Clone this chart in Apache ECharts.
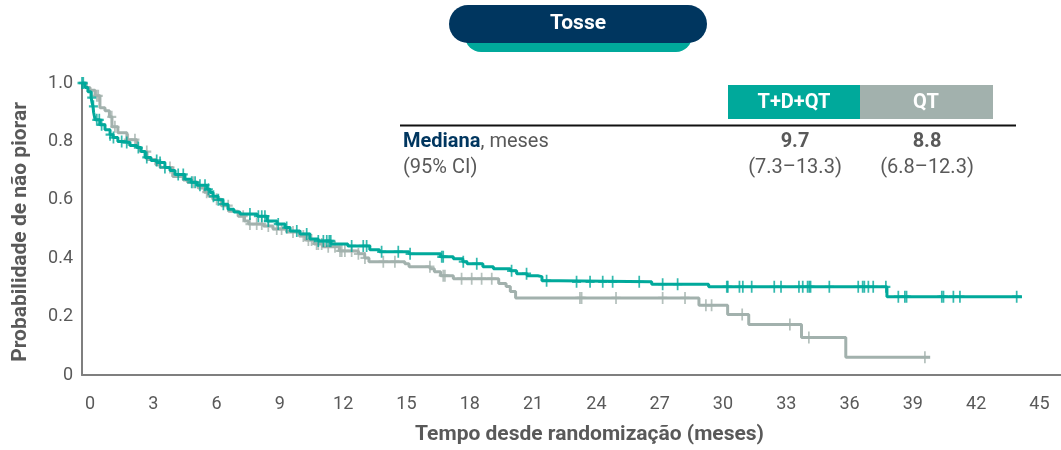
<!DOCTYPE html>
<html>
<head>
<meta charset="utf-8">
<script src="https://cdn.jsdelivr.net/npm/echarts@6/dist/echarts.min.js"></script>
<style>
  html, body { margin: 0; padding: 0; background: #ffffff; }
  #chart { width: 1061px; height: 450px; }
</style>
</head>
<body>
<div id="chart"></div>
<script>
// Kaplan–Meier steps: [month, probability of not worsening]
const stepsTDQT = [
  [0, 1.0], [0.14, 0.985], [0.28, 0.97], [0.43, 0.95], [0.52, 0.92], [0.55, 0.90], [0.62, 0.874],
  [0.85, 0.857], [1.09, 0.84], [1.33, 0.823], [1.47, 0.813], [1.7, 0.80], [1.94, 0.796],
  [2.27, 0.786], [2.6, 0.779], [2.8, 0.765], [2.99, 0.745], [3.27, 0.735], [3.55, 0.728],
  [3.93, 0.711], [4.17, 0.70], [4.41, 0.687], [4.88, 0.670], [5.17, 0.66], [5.45, 0.650],
  [5.92, 0.636], [6.07, 0.625], [6.21, 0.612], [6.45, 0.60], [6.68, 0.585], [6.92, 0.568],
  [7.2, 0.558], [7.49, 0.551], [8.3, 0.544], [8.77, 0.527], [9.24, 0.517], [9.62, 0.505],
  [9.86, 0.493], [10.33, 0.483], [10.8, 0.466], [11.2, 0.459], [11.8, 0.449], [12.6, 0.442],
  [13.64, 0.429], [14.1, 0.422], [15.5, 0.415], [17.0, 0.405], [17.6, 0.398], [18.05, 0.388],
  [18.25, 0.381], [19.0, 0.371], [19.5, 0.364], [20.3, 0.357], [20.6, 0.347], [21.1, 0.34],
  [21.6, 0.337], [21.8, 0.323], [22.6, 0.319], [27.0, 0.311], [29.7, 0.302], [38.15, 0.268],
  [44.55, 0.268]
];
const stepsQT = [
  [0, 1.0], [0.2, 0.985], [0.38, 0.975], [0.62, 0.956], [0.85, 0.915], [1.09, 0.905], [1.3, 0.884],
  [1.42, 0.85], [1.7, 0.83], [2.13, 0.806], [2.6, 0.78], [2.75, 0.765], [3.08, 0.738], [3.5, 0.72],
  [3.7, 0.711], [4.3, 0.68], [4.8, 0.668], [5.0, 0.66], [5.5, 0.64], [5.8, 0.626], [6.0, 0.612],
  [6.2, 0.602], [6.6, 0.58], [6.95, 0.561], [7.4, 0.544], [7.7, 0.527], [7.9, 0.517], [8.6, 0.51],
  [9.05, 0.50], [9.7, 0.49], [10.3, 0.476], [10.6, 0.462], [11.0, 0.449], [11.4, 0.439],
  [12.2, 0.425], [13.1, 0.415], [13.4, 0.401], [13.6, 0.388], [15.3, 0.381], [15.5, 0.371],
  [16.5, 0.364], [16.7, 0.354], [17.0, 0.34], [17.6, 0.33], [19.75, 0.313], [20.1, 0.303],
  [20.3, 0.286], [20.55, 0.264], [29.24, 0.239], [30.6, 0.207], [31.6, 0.173], [34.1, 0.128],
  [36.2, 0.061], [40.2, 0.061]
];
// Censoring times (months)
const censorTDQT = [0, 0.06, 0.46, 0.54, 0.7, 0.82, 0.93, 1.33, 1.49, 1.88, 2.12, 2.67, 3.07, 3.54,
  3.7, 3.93, 4.56, 4.8, 5.2, 5.36, 5.59, 5.83, 5.99, 6.23, 6.46, 6.7, 7.96, 8.36, 8.52, 8.67, 8.83,
  9.3, 9.7, 10.18, 10.65, 11.2, 11.44, 11.6, 11.72, 11.79, 12.78, 13.33, 13.49, 14.2, 14.99, 15.55,
  17.05, 17.12, 18.07, 18.71, 20.36, 21.07, 22.02, 23.44, 24.08, 24.68, 25.15, 26.41, 27.52, 28.23,
  30.56, 30.61, 31.16, 31.32, 31.74, 32.81, 33.13, 33.98, 34.16, 34.39, 34.47, 34.53, 35.42, 36.79,
  37.0, 37.08, 37.27, 37.5, 38.1, 38.69, 39.0, 39.08, 40.75, 40.83, 41.3, 41.61, 44.3];
const censorQT = [0.7, 0.77, 1.41, 1.56, 2.19, 2.51, 3.07, 4.17, 5.27, 5.91, 6.38, 6.93, 7.64, 7.96,
  8.28, 8.52, 8.83, 9.23, 9.46, 10.0, 10.49, 10.73, 10.88, 11.12, 11.2, 11.36, 11.67, 11.99, 12.23,
  12.31, 12.46, 12.78, 13.1, 13.41, 14.28, 14.83, 16.49, 17.12, 17.2, 17.99, 18.47, 18.94, 19.42,
  23.6, 23.68, 25.31, 27.52, 28.58, 29.57, 29.84, 31.29, 33.55, 34.45, 39.95];

const xTicks = [0, 3, 6, 9, 12, 15, 18, 21, 24, 27, 30, 33, 36, 39, 42, 45];
const yTicks = [0, 0.2, 0.4, 0.6, 0.8, 1.0];

const armNames = ['T+D+QT', 'QT'];
const medianText = ['9.7', '8.8'];
const ciText = ['(7.3–13.3)', '(6.8–12.3)'];
const panelTitle = 'Tosse';

const TEAL = '#00a99b';
const GREY = '#a2b1ad';
const NAVY = '#00365f';
const TEXT = '#595959';
const FONT = 'Roboto, "Noto Sans", sans-serif';

// survival value of a step curve at time t
function survAt(steps, t) {
  let v = steps[0][1];
  for (const p of steps) { if (p[0] <= t) v = p[1]; else break; }
  return v;
}
const censorPts = (steps, times) => times.map(t => [t, survAt(steps, t)]);

const plusPath = 'path://M0,5L10,5M5,0L5,10';

const chart = echarts.init(document.getElementById('chart'), null, { renderer: 'canvas' });

const centred = (x, y, text, font, fill) => ({
  type: 'text', x, y, z: 12,
  style: { text, fill, font, align: 'center', verticalAlign: 'middle' }
});

const tableGraphics = [
  // title pill
  { type: 'rect', shape: { x: 465, y: 18, width: 227, height: 34, r: 16 }, style: { fill: TEAL }, z: 10 },
  { type: 'rect', shape: { x: 449, y: 5, width: 258, height: 38, r: 19 }, style: { fill: NAVY }, z: 11 },
  centred(578, 24, panelTitle, 'bold 21px ' + FONT, '#ffffff'),
  // arm header boxes
  { type: 'rect', shape: { x: 728, y: 85, width: 132, height: 34 }, style: { fill: TEAL }, z: 10 },
  { type: 'rect', shape: { x: 860, y: 85, width: 133, height: 34 }, style: { fill: GREY }, z: 10 },
  centred(794, 103, armNames[0], 'bold 20px ' + FONT, '#ffffff'),
  centred(926, 103, armNames[1], 'bold 20px ' + FONT, '#ffffff'),
  // rule
  { type: 'line', shape: { x1: 400, y1: 125.5, x2: 1016, y2: 125.5 }, style: { stroke: '#111111', lineWidth: 2 }, z: 10 },
  // row labels
  { type: 'text', x: 403, y: 142, z: 12, style: {
      text: '{b|Mediana}{r|, meses}', verticalAlign: 'middle',
      rich: { b: { font: 'bold 20px ' + FONT, fill: NAVY }, r: { font: '20px ' + FONT, fill: TEXT } } } },
  { type: 'text', x: 403, y: 168, z: 12, style: { text: '(95% CI)', fill: TEXT, font: '20px ' + FONT, verticalAlign: 'middle' } },
  centred(795, 142, medianText[0], 'bold 20px ' + FONT, TEXT),
  centred(927, 142, medianText[1], 'bold 20px ' + FONT, TEXT),
  centred(795, 168, ciText[0], '20px ' + FONT, TEXT),
  centred(927, 168, ciText[1], '20px ' + FONT, TEXT)
];

chart.setOption({
  animation: false,
  backgroundColor: '#ffffff',
  grid: { left: 82, right: 0, top: 83, bottom: 73, containLabel: false },
  xAxis: {
    type: 'value', min: 0, max: 46.4,
    name: 'Tempo desde randomização (meses)',
    nameLocation: 'middle', nameGap: 49,
    nameTextStyle: { fontFamily: FONT, fontSize: 21, fontWeight: 'bold', color: TEXT, padding: [0, 0, 0, 36] },
    axisLine: { show: true, onZero: false, lineStyle: { color: '#7f7f7f', width: 2 } },
    axisTick: { show: false },
    splitLine: { show: false },
    axisLabel: { customValues: xTicks, margin: 20, fontFamily: FONT, fontSize: 18, color: TEXT, padding: [0, 0, 0, 16] }
  },
  yAxis: {
    type: 'value', min: 0, max: 1, interval: 0.2,
    name: 'Probabilidade de não piorar',
    nameLocation: 'middle', nameGap: 51, nameRotate: 90,
    nameTextStyle: { fontFamily: FONT, fontSize: 21, fontWeight: 'bold', color: TEXT, padding: [0, 6, 0, 0] },
    axisLine: { show: true, lineStyle: { color: '#7f7f7f', width: 2 } },
    axisTick: { show: false },
    splitLine: { show: false },
    axisLabel: { customValues: yTicks, margin: 9, fontFamily: FONT, fontSize: 18, color: TEXT,
      formatter: v => (v === 0 ? '0' : v.toFixed(1)) }
  },
  series: [
    { name: armNames[1], type: 'line', step: 'end', data: stepsQT, showSymbol: false, z: 2,
      lineStyle: { color: GREY, width: 3 } },
    { name: armNames[1] + ' censor', type: 'scatter', data: censorPts(stepsQT, censorQT), z: 3,
      symbol: plusPath, symbolSize: [9, 12],
      itemStyle: { color: 'rgba(0,0,0,0)', borderColor: GREY, borderWidth: 2 } },
    { name: armNames[0], type: 'line', step: 'end', data: stepsTDQT, showSymbol: false, z: 4,
      lineStyle: { color: TEAL, width: 3 } },
    { name: armNames[0] + ' censor', type: 'scatter', data: censorPts(stepsTDQT, censorTDQT), z: 5,
      symbol: plusPath, symbolSize: [9, 12],
      itemStyle: { color: 'rgba(0,0,0,0)', borderColor: TEAL, borderWidth: 2 } }
  ],
  graphic: tableGraphics
});
</script>
</body>
</html>
